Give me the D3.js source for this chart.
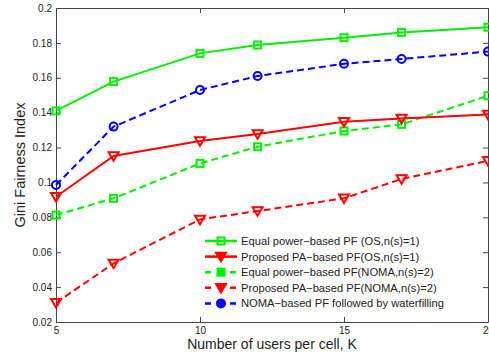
<!DOCTYPE html>
<html><head><meta charset="utf-8">
<script src="https://cdn.jsdelivr.net/npm/d3@7"></script>
<style>body{margin:0;background:#fff}svg{display:block}text{font-family:"Liberation Sans",Arial,sans-serif}</style>
</head><body>
<svg id="c" width="489" height="353"></svg>
<script>
const users = [5, 7, 10, 12, 15, 17, 20];
const equalOS = [0.141, 0.1578, 0.174, 0.1788, 0.183, 0.186, 0.189];
const proposedOS = [0.0918, 0.1152, 0.1237, 0.1278, 0.1348, 0.1367, 0.139];
const equalNOMA = [0.0813, 0.0909, 0.1109, 0.1205, 0.1295, 0.1333, 0.1497];
const proposedNOMA = [0.031, 0.0536, 0.0788, 0.0836, 0.0909, 0.102, 0.1124];
const nomaWF = [0.0985, 0.132, 0.153, 0.161, 0.168, 0.1708, 0.175];
const xTicks = [5, 10, 15, 20];
const yTicks = [0.02, 0.04, 0.06, 0.08, 0.1, 0.12, 0.14, 0.16, 0.18, 0.2];
const seriesNames = [
  "Equal power\u2212based PF (OS,n(s)=1)",
  "Proposed PA\u2212based PF(OS,n(s)=1)",
  "Equal power\u2212based PF(NOMA,n(s)=2)",
  "Proposed PA\u2212based PF(NOMA,n(s)=2)",
  "NOMA\u2212based PF followed by waterfilling"
];
const seriesData = [equalOS, proposedOS, equalNOMA, proposedNOMA, nomaWF];
const seriesColor = ["#00ee00", "#ff0000", "#00ee00", "#ff0000", "#0000ff"];
const seriesDash = [null, null, "7,4", "7,4", "7,4"];
const seriesMarker = ["square", "tri", "square", "tri", "circle"];
const drawOrder = [2, 3, 4, 1, 0];

const svg = d3.select("#c");
const L = 56, T = 8, R = 488, B = 322;
const x = d3.scaleLinear().domain([5, 20]).range([L, R]);
const y = d3.scaleLinear().domain([0.02, 0.2]).range([B, T]);
const axisCol = "#444";

const g = svg.append("g");
const fmt = d3.format("~g");
const ax = [
  [d3.axisBottom(x).tickValues(xTicks).tickFormat(d3.format("d")), `translate(0,${B})`, 5],
  [d3.axisTop(x).tickValues(xTicks).tickFormat(""), `translate(0,${T})`, 5],
  [d3.axisLeft(y).tickValues(yTicks).tickFormat(fmt), `translate(${L},0)`, 4],
  [d3.axisRight(y).tickValues(yTicks).tickFormat(""), `translate(${R},0)`, 4]
];
ax.forEach(([a, tr, pad]) => {
  const gg = g.append("g").attr("transform", tr)
    .call(a.tickSizeInner(-5).tickSizeOuter(0).tickPadding(pad));
  gg.select(".domain").attr("stroke", axisCol).attr("stroke-width", 1);
  gg.selectAll(".tick line").attr("stroke", axisCol);
  gg.selectAll(".tick text").attr("fill", "#222").style("font-size", "10px")
    .style("font-family", '"Liberation Sans",Arial,sans-serif');
});

function marker(sel, type, cx, cy, color, filled) {
  if (type === "square") {
    sel.append("rect").attr("x", cx - 3.5).attr("y", cy - 3.5).attr("width", 7).attr("height", 7)
      .attr("fill", filled ? color : "none").attr("stroke", color).attr("stroke-width", 2);
  } else if (type === "tri") {
    const s = 5;
    sel.append("path").attr("d", `M${cx - s},${cy - s * 0.75}L${cx + s},${cy - s * 0.75}L${cx},${cy + s * 0.95}Z`)
      .attr("fill", filled ? color : "none").attr("stroke", color).attr("stroke-width", 2);
  } else {
    sel.append("circle").attr("cx", cx).attr("cy", cy).attr("r", 4)
      .attr("fill", filled ? color : "none").attr("stroke", color).attr("stroke-width", 2);
  }
}

const line = d3.line().x((d, i) => x(users[i])).y(d => y(d));
drawOrder.forEach(k => {
  const s = g.append("g");
  s.append("path").datum(seriesData[k]).attr("d", line).attr("fill", "none")
    .attr("stroke", seriesColor[k]).attr("stroke-width", 2)
    .attr("stroke-dasharray", seriesDash[k]);
  seriesData[k].forEach((v, i) => marker(s, seriesMarker[k], x(users[i]), y(v), seriesColor[k], false));
});

const lg = svg.append("g");
seriesNames.forEach((name, k) => {
  const yy = 241 + k * 15.6;
  lg.append("line").attr("x1", 205).attr("x2", 237).attr("y1", yy).attr("y2", yy)
    .attr("stroke", seriesColor[k]).attr("stroke-width", 2.5).attr("stroke-dasharray", seriesDash[k] ? "6,6.5" : null);
  marker(lg, seriesMarker[k], 221, yy, seriesColor[k], k >= 1);
  lg.append("text").attr("x", 241).attr("y", yy + 4).style("font-size", "11.2px").attr("fill", "#222").text(name);
});

svg.append("text").attr("x", (L + R) / 2).attr("y", 349).attr("text-anchor", "middle")
  .style("font-size", "14px").attr("fill", "#222").text("Number of users per cell, K");
svg.append("text").attr("transform", `translate(25,${(T + B) / 2}) rotate(-90)`).attr("text-anchor", "middle")
  .style("font-size", "14.5px").attr("fill", "#222").text("Gini Fairness Index");
</script>
</body></html>
